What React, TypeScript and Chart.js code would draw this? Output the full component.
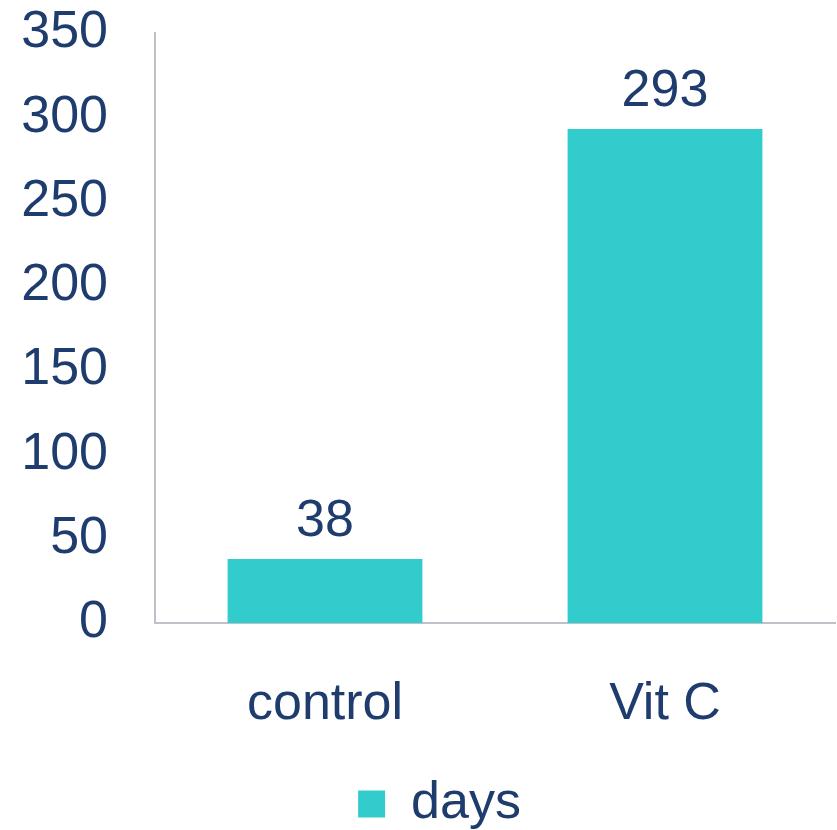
import React, { useEffect, useRef } from "react";
import { Chart, registerables } from "chart.js";

Chart.register(...registerables);

const categories = ["control", "Vit C"];
const seriesName = "days";
const values = [38, 293];
const yMin = 0;
const yMax = 350;
const yStep = 50;

const TEXT = "#1F3C6E";
const BAR = "#33CCCC";
const AXIS = "#BFC0C8";
const FONT = "'Liberation Sans', Arial, sans-serif";

const valueLabels = {
  id: "valueLabels",
  afterDatasetsDraw(chart: any) {
    const ctx = chart.ctx;
    const meta = chart.getDatasetMeta(0);
    ctx.save();
    ctx.fillStyle = TEXT;
    ctx.font = `52px ${FONT}`;
    ctx.textAlign = "center";
    ctx.textBaseline = "alphabetic";
    meta.data.forEach((bar: any, i: number) => {
      ctx.fillText(String(chart.data.datasets[0].data[i]), bar.x, bar.y - 23);
    });
    ctx.restore();
  },
};

const legendShift = {
  id: "legendShift",
  afterLayout(chart: any) {
    if (chart.legend) {
      chart.legend.left += 22;
      chart.legend.right += 22;
    }
  },
};

export default function App() {
  const ref = useRef<HTMLCanvasElement>(null);
  useEffect(() => {
    document.body.style.margin = "0";
    const chart = new Chart(ref.current!, {
      type: "bar",
      data: {
        labels: categories,
        datasets: [
          {
            label: seriesName,
            data: values,
            backgroundColor: BAR,
            borderWidth: 0,
            categoryPercentage: 1,
            barPercentage: 0.573,
          },
        ],
      },
      options: {
        responsive: false,
        animation: false,
        layout: { padding: { top: 0, right: 2, left: 0, bottom: -10 } },
        plugins: {
          tooltip: { enabled: false },
          legend: {
            position: "bottom",
            labels: {
              color: TEXT,
              font: { size: 52, family: FONT },
              boxWidth: 27,
              boxHeight: 27,
              padding: 0,
            },
          },
        },
        scales: {
          x: {
            grid: { display: false, drawTicks: false },
            border: { display: true, color: AXIS, width: 2 },
            ticks: { color: TEXT, font: { size: 52, family: FONT }, padding: 50 },
            afterFit(scale: any) {
              scale.height = 155;
            },
          },
          y: {
            min: yMin,
            max: yMax,
            grid: { display: false, drawTicks: false },
            border: { display: true, color: AXIS, width: 2 },
            ticks: {
              stepSize: yStep,
              color: TEXT,
              font: { size: 52, family: FONT },
              padding: 47,
            },
            afterFit(scale: any) {
              scale.width = 155;
              scale.paddingTop = 33;
              scale.paddingBottom = 0;
            },
          },
        },
      },
      plugins: [valueLabels, legendShift],
    });
    return () => chart.destroy();
  }, []);
  return <canvas ref={ref} width={837} height={830} style={{ display: "block" }} />;
}
